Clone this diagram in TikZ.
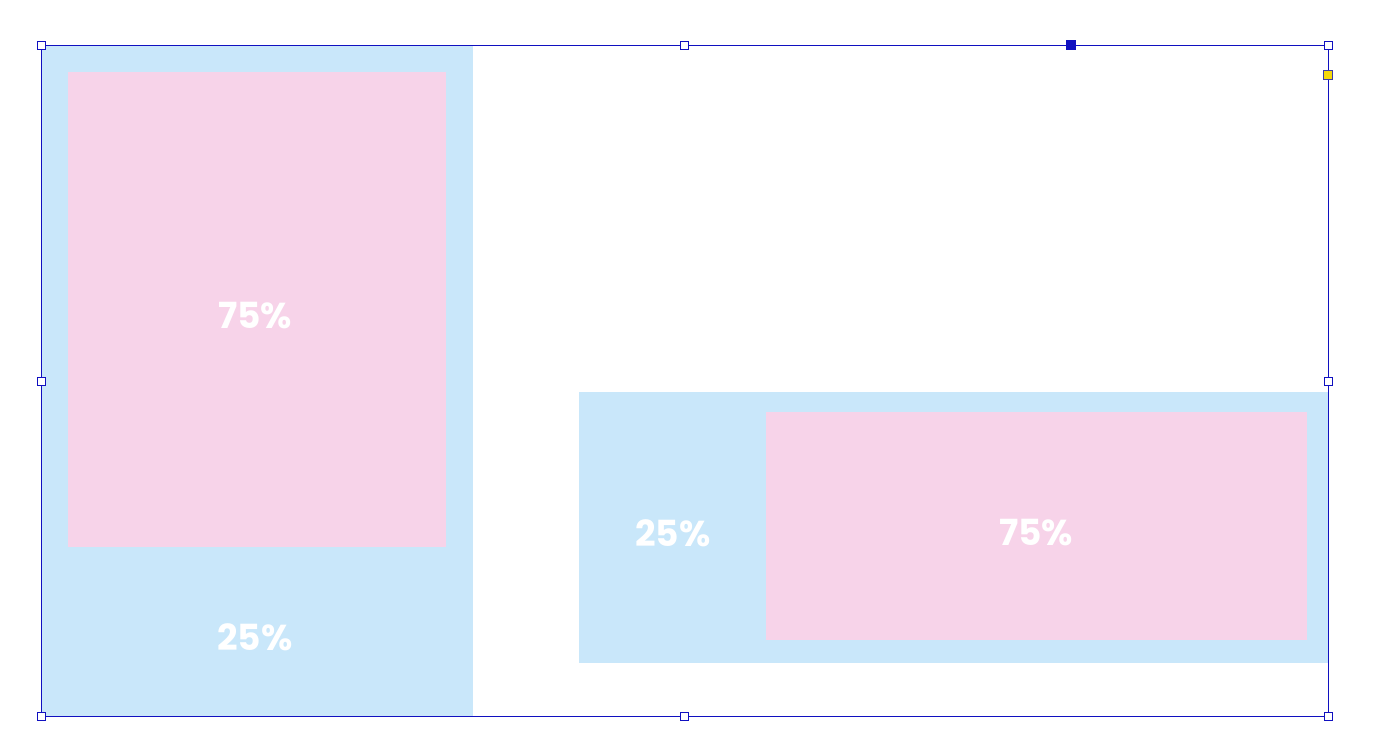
\documentclass[tikz,border=0pt]{standalone}
\usepackage{fontspec}
\setmainfont{Poppins}
\definecolor{panelblue}{HTML}{C9E7FA}
\definecolor{panelpink}{HTML}{F7D3E9}
\definecolor{selblue}{HTML}{1010C0}
\definecolor{handleyellow}{HTML}{F5D90A}
\tikzset{
  panel/.style={fill=panelblue, draw=none},
  inner/.style={fill=panelpink, draw=none},
  pct/.style={text=white, font=\bfseries\fontsize{36}{40}\selectfont, inner sep=0pt},
  handle/.style={draw=selblue, fill=white, line width=1pt, minimum size=8pt, inner sep=0pt, rectangle},
  selframe/.style={draw=selblue, line width=1pt},
}
\begin{document}
\begin{tikzpicture}[x=1pt,y=-1pt]
\useasboundingbox (0,0) rectangle (1378,739);
\fill[white] (0,0) rectangle (1378,739);
% left panel
\path[panel] (41,45) rectangle (473,716);
\path[inner] (68,72) rectangle (446,547);
\node[pct] (l75) at (255,316) {75\%};
\node[pct] (l25) at (255,637) {25\%};
% right panel
\path[panel] (579,392) rectangle (1328,663);
\path[inner] (766,412) rectangle (1307,640);
\node[pct] (r25) at (673,533) {25\%};
\node[pct] (r75) at (1036,533) {75\%};
% selection frame
\draw[selframe] (41,45) rectangle (1328,716);
\node[handle] (h1) at (41,45) {};
\node[handle] (h2) at (684,45) {};
\node[handle] (h3) at (1328,45) {};
\node[handle] (h4) at (41,381) {};
\node[handle] (h5) at (1328,381) {};
\node[handle] (h6) at (41,716) {};
\node[handle] (h7) at (684,716) {};
\node[handle] (h8) at (1328,716) {};
\node[handle, fill=selblue, minimum size=9pt] (hb) at (1071,45) {};
\node[handle, fill=handleyellow, draw=selblue!60!gray, minimum size=9pt] (hy) at (1328,75) {};
\end{tikzpicture}
\end{document}
